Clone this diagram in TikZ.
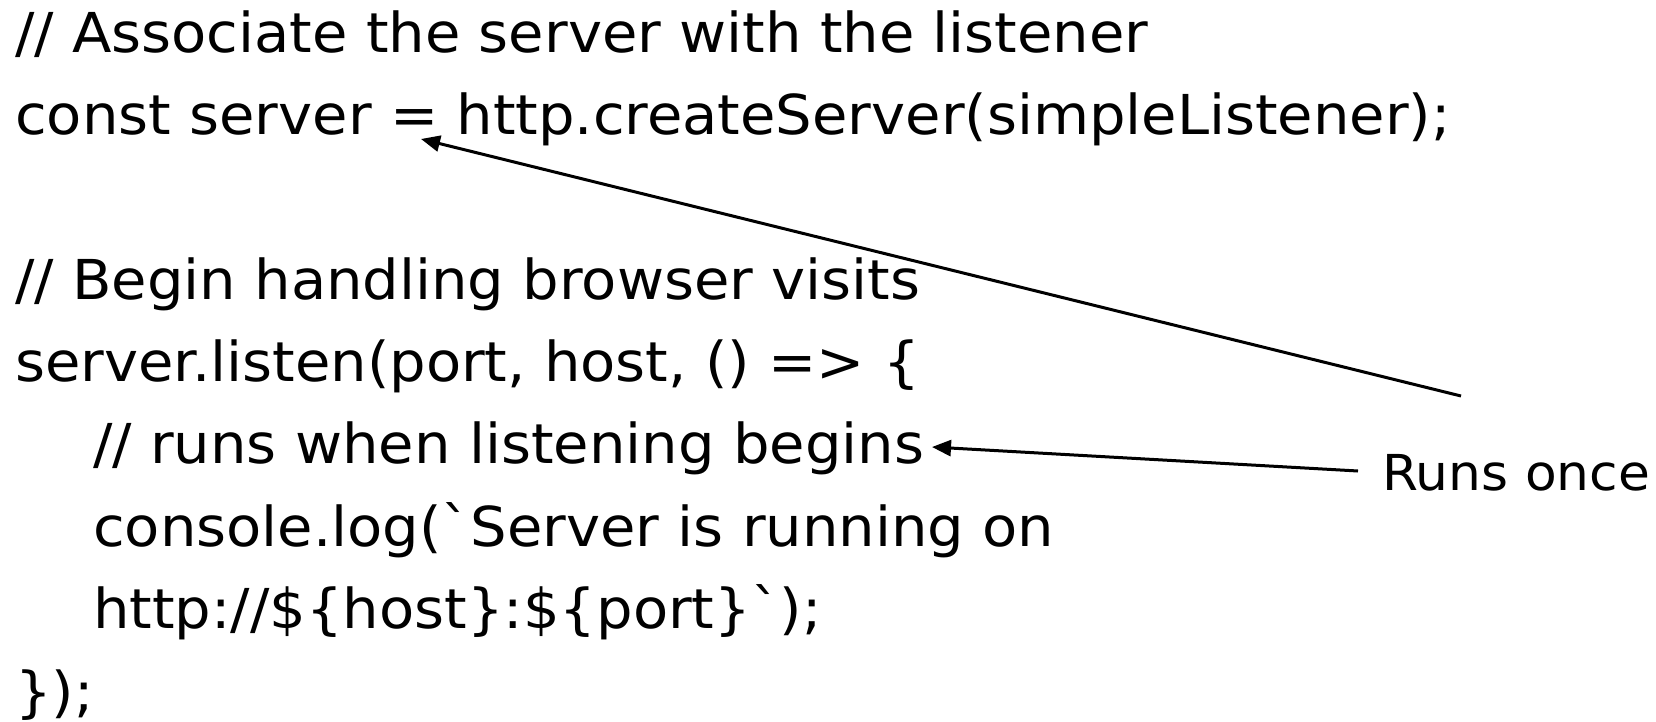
\documentclass[tikz,border=0pt]{standalone}
\usepackage{fontspec}
\setmainfont{DejaVu Sans}[Ligatures=TeXOff,FakeStretch=1.047]
\usetikzlibrary{arrows.meta}
\tikzset{
  codeline/.style={anchor=base west, inner sep=0pt, font=\fontsize{55}{66}\selectfont},
  labeltext/.style={anchor=base west, inner sep=0pt, font=\fontsize{49.5}{60}\selectfont},
  pointer/.style={line width=3pt, -{Triangle[length=19pt,width=16pt]}}
}
\begin{document}
\begin{tikzpicture}[x=1pt,y=-1pt]
\useasboundingbox (0,0) rectangle (1656,722);
\node[codeline] (l1) at (15,53) {// Associate the server with the listener};
\node[codeline] (l2) at (15,135) {const server = http.createServer(simpleListener);};
\node[codeline] (l4) at (15,299) {// Begin handling browser visits};
\node[codeline] (l5) at (15,381) {server.listen(port, host, () => \{};
\node[codeline] (l6) at (93,463) {// runs when listening begins};
\node[codeline] (l7) at (93,546) {console.log(`Server is running on};
\node[codeline] (l8) at (93,628) {http://\$\{host\}:\$\{port\}`);};
\node[codeline] (l9) at (15,711) {\});};
\node[labeltext] (runs) at (1382,490) {Runs once};
\coordinate (s1) at (1461,396);
\coordinate (t1) at (421,139);
\coordinate (s2) at (1358,471);
\coordinate (t2) at (932,447);
\draw[pointer] (s1) -- (t1);
\draw[pointer] (s2) -- (t2);
\end{tikzpicture}
\end{document}
